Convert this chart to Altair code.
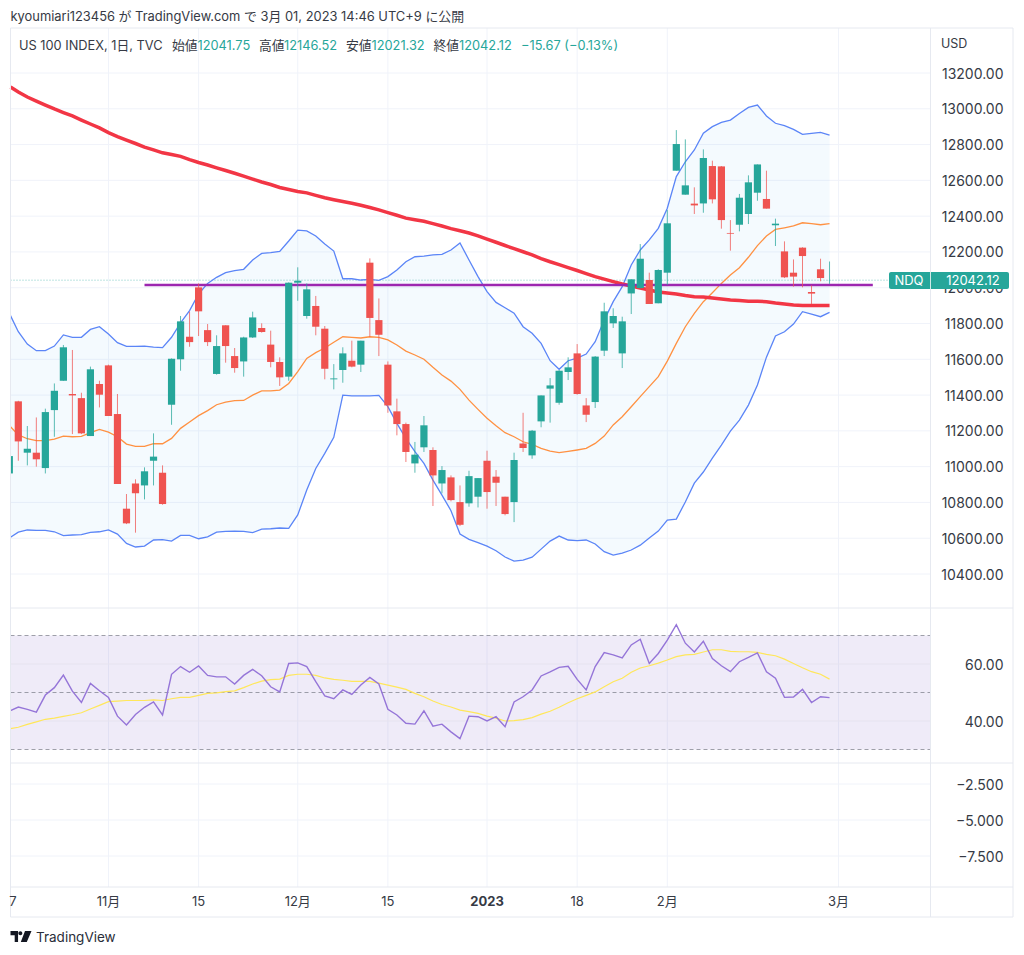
import altair as alt
import pandas as pd

opens = [10962,11365,11078,11078,10992,11316,11480,11406,11383,11171,11462,11566,11294,10765,10906,10895,11033,10966,11346,11600,
11726,12002,11763,11518,11790,11618,11588,11722,11775,11682,11585,11503,12028,11842,11898,11771,11488,11540,11592,11570,
12140,11819,11570,11309,11238,11018,11108,11093,10906,10940,10802,10795,10832,11033,10944,10832,10802,11130,11063,11253,
11436,11357,11529,11633,11342,11361,11648,11801,11633,11968,11998,12043,11913,12084,12654,12520,12470,12471,12680,12678,
12306,12352,12412,12531,12496,12349,12203,12084,12224,11976,12103,12041.75]
closes = [11059,11141,11100,11041,11305,11424,11667,11398,11186,11544,11402,11283,10903,10683,10851,10974,11056,10791,11603,11812,
11696,11868,11696,11674,11674,11551,11722,11834,11752,11585,11499,12028,12039,11991,11782,11547,11493,11633,11559,11704,
11831,11737,11342,11238,11082,11067,11231,10951,10981,10813,10675,10947,10936,10858,10910,10735,11037,11104,11201,11398,
11454,11536,11555,11406,11290,11615,11868,11842,11812,12047,12162,11909,12099,12360,12803,12572,12460,12725,12494,12378,
12302,12503,12589,12689,12442,12358,12058,12062,12177,11967,12054,12042.12]
highs = [11059,11368,11227,11275,11324,11465,11680,11652,11413,11559,11480,11570,11406,10847,10929,10996,11186,11007,11605,11842,
11866,12024,11797,11734,11790,11663,11726,11866,11801,11760,11611,12030,12114,12024,11954,11786,11573,11667,11704,11704,
12164,11940,11588,11380,11246,11138,11283,11108,11003,10951,10895,10977,10936,11089,10981,10832,11078,11301,11205,11398,
11495,11540,11611,11685,11383,11618,11916,11885,11838,12047,12244,12084,12103,12434,12881,12829,12561,12773,12710,12680,
12378,12524,12628,12689,12654,12386,12259,12158,12226,12013,12162,12146.52]
lows = [10962,11033,11007,11000,10962,11167,11480,11182,11182,11171,11331,11283,10903,10679,10631,10817,10895,10787,11234,11536,
11670,11730,11674,11514,11581,11525,11503,11719,11749,11555,11451,11480,11927,11827,11734,11488,11432,11469,11555,11529,
11726,11618,11301,11175,11026,10966,11082,10780,10851,10806,10668,10776,10772,10765,10780,10728,10690,11082,11044,11220,
11246,11346,11484,11402,11249,11328,11618,11775,11551,11853,11995,11909,11913,12015,12654,12520,12412,12419,12471,12330,
12207,12315,12356,12486,12442,12233,12054,12006,12002,11909,12036,12021.32]
upper = [11844,11754,11685,11648,11648,11674,11736,11723,11723,11767,11782,11741,11693,11672,11672,11674,11668,11665,11723,11804,
11872,11965,12024,12058,12084,12095,12103,12155,12192,12196,12203,12261,12322,12318,12289,12244,12205,12050,12050,12043,
12047,12041,12062,12099,12145,12173,12177,12183,12186,12211,12250,12155,12062,11978,11918,11888,11858,11782,11745,11689,
11592,11544,11592,11607,11629,11698,11819,11922,12006,12127,12211,12267,12332,12444,12621,12704,12770,12863,12900,12924,
12937,12974,13008,13021,12960,12919,12906,12885,12857,12863,12868,12853]
lower = [10605,10634,10646,10644,10644,10636,10614,10618,10620,10633,10636,10646,10623,10571,10551,10556,10590,10592,10584,10616,
10616,10597,10608,10634,10638,10640,10638,10631,10651,10653,10657,10655,10730,10869,10990,11074,11164,11400,11396,11395,
11396,11398,11335,11242,11158,11084,11018,10925,10841,10754,10623,10594,10575,10556,10530,10495,10472,10478,10494,10539,
10584,10612,10590,10586,10590,10568,10525,10506,10517,10534,10561,10601,10640,10701,10707,10802,10908,10970,11048,11120,
11199,11260,11344,11456,11612,11730,11754,11797,11866,11853,11838,11862]
basis = [11223,11177,11156,11145,11145,11154,11171,11167,11169,11190,11208,11193,11167,11126,11113,11113,11128,11128,11158,11214,
11249,11285,11313,11346,11361,11369,11370,11400,11423,11423,11428,11465,11531,11605,11637,11663,11695,11726,11722,11719,
11726,11722,11708,11680,11646,11624,11600,11555,11512,11478,11432,11372,11320,11270,11229,11190,11167,11139,11124,11102,
11087,11078,11085,11093,11102,11130,11171,11233,11279,11335,11391,11447,11503,11590,11689,11782,11857,11922,11972,12024,
12071,12112,12170,12235,12289,12326,12335,12345,12363,12358,12352,12358]
ma200 = [13122,13094,13066,13043,13021,12999,12979,12960,12937,12915,12893,12867,12845,12825,12806,12786,12770,12754,12744,12734,
12716,12700,12686,12670,12655,12640,12624,12607,12591,12577,12560,12549,12538,12530,12516,12503,12492,12482,12472,12461,
12448,12435,12420,12405,12389,12380,12371,12358,12345,12330,12318,12306,12290,12272,12254,12236,12218,12201,12183,12163,
12145,12129,12112,12096,12079,12062,12048,12034,12021,12010,11998,11987,11976,11970,11965,11956,11950,11948,11942,11937,
11931,11929,11925,11925,11922,11914,11909,11903,11901,11900,11900,11900]
rsi = [43.6,44.9,44.1,43.1,49.1,51.7,56.1,50.5,46.5,53.2,50.6,48.3,41.7,38.6,42.3,44.8,46.7,42.1,56.4,59.1,
57.1,59.3,56.0,55.5,55.5,53.0,56.0,58.1,55.9,52.0,50.2,60.2,60.4,59.1,53.8,48.8,47.8,50.9,49.3,52.6,
55.3,53.0,44.1,42.1,39.2,38.9,43.6,38.2,38.9,36.2,33.8,41.7,41.5,40.0,41.5,38.0,46.7,48.5,50.9,55.8,
57.2,58.8,59.2,54.6,50.9,59.1,64.0,63.2,62.1,66.7,68.7,60.2,63.7,68.4,73.8,67.3,64.2,68.0,61.9,59.4,
57.3,60.8,62.3,63.9,57.3,55.0,48.3,48.4,51.1,46.5,48.5,48.2]
rsi_ma = [37.3,37.8,38.8,39.7,40.6,41.0,41.6,42.2,42.9,44.2,45.5,46.8,47.0,47.2,47.2,47.2,47.4,47.2,47.8,48.3,
48.3,49.0,49.7,49.9,50.3,50.6,51.7,53.0,54.0,54.5,54.7,56.0,56.4,56.4,56.0,55.1,54.6,54.3,53.9,53.9,
53.9,53.3,52.6,51.9,51.1,49.7,48.5,47.0,45.8,44.9,43.8,43.3,42.7,41.7,41.0,40.0,40.1,40.5,41.2,42.4,
43.4,44.8,46.4,47.8,49.0,50.2,52.0,53.8,55.0,57.1,58.6,59.4,60.3,61.4,62.6,63.2,63.4,64.2,65.0,65.0,
64.4,64.3,64.3,64.1,63.4,62.9,61.7,60.2,58.7,57.3,56.4,54.7]

price_ticks = [10400,10600,10800,11000,11200,11400,11600,11800,12000,12200,12400,12600,12800,13000,13200]
rsi_ticks = [40,60]
rsi_levels = [30,50,70]
lower_ticks = [-2.5,-5.0,-7.5]
x_ticks = [0.4,11,21,32,42,53,63,73,92]
x_labels = ["7","11月","15","12月","15","2023","18","2月","3月"]
level_price = 12015
last_price = 12042.12

TEAL = "#26a69a"
RED = "#ef5350"
GRID = "#f0f3fa"
BORDER = "#e6e9f0"
TXT = "#363a45"
FONT = "Inter, 'Noto Sans CJK JP', sans-serif"

df = pd.DataFrame(dict(i=range(len(opens)), o=opens, c=closes, h=highs, l=lows, up=upper, lo=lower, ba=basis,
                       ma=ma200, rsi=rsi, rsi_ma=rsi_ma))
df["dir"] = ["u" if c >= o else "d" for o, c in zip(opens, closes)]

xs = alt.Scale(domain=[0.133, 102.2], range=[2.5, 922.5], clamp=True, nice=False, zero=False)
ps = alt.Scale(domain=[10400, 13200], range=[566, 65], nice=False, zero=False)
rs = alt.Scale(domain=[40, 60], range=[713, 656], nice=False, zero=False)
ls = alt.Scale(domain=[-7.5, -2.5], range=[848, 776], nice=False, zero=False)

X = alt.X("i:Q", scale=xs, axis=None)
base = alt.Chart(df)


def yaxis(vals, fmt):
    return alt.Axis(orient="right", values=vals, format=fmt, labelAlign="right", labelPadding=72, ticks=False,
                    domain=False, grid=False, title=None, labelFontSize=14, labelColor=TXT, labelFont=FONT,
                    labelOffset=1, labelOverlap=False, labelBound=False, labelFlush=False)


layers = []

# grid
layers.append(alt.Chart(pd.DataFrame({"t": x_ticks[1:]})).mark_rule(color=GRID, strokeWidth=1).encode(
    x=alt.X("t:Q", scale=xs, axis=None), y=alt.value(20), y2=alt.value(879)))
layers.append(alt.Chart(pd.DataFrame({"v": price_ticks})).mark_rule(color=GRID, strokeWidth=1).encode(
    y=alt.Y("v:Q", scale=ps, axis=yaxis(price_ticks, ".2f")), x=alt.value(2.5), x2=alt.value(922.5)))
layers.append(alt.Chart(pd.DataFrame({"v": lower_ticks})).mark_rule(color=GRID, strokeWidth=1).encode(
    y=alt.Y("v:Q", scale=ls, axis=yaxis(lower_ticks, ".3f")), x=alt.value(2.5), x2=alt.value(922.5)))

# RSI pane
layers.append(alt.Chart(pd.DataFrame({"a": [rsi_levels[0]], "b": [rsi_levels[2]]})).mark_rect(color="#7e57c2", opacity=0.12).encode(
    y=alt.Y("a:Q", scale=rs, axis=None), y2="b:Q", x=alt.value(2.5), x2=alt.value(922.5)))
layers.append(alt.Chart(pd.DataFrame({"v": rsi_ticks})).mark_rule(color="#e6e3ef", strokeWidth=1).encode(
    y=alt.Y("v:Q", scale=rs, axis=yaxis(rsi_ticks, ".2f")), x=alt.value(2.5), x2=alt.value(922.5)))
layers.append(alt.Chart(pd.DataFrame({"v": rsi_levels})).mark_rule(color="#787b86", strokeWidth=1, strokeDash=[4, 3], opacity=0.7).encode(
    y=alt.Y("v:Q", scale=rs, axis=None), x=alt.value(2.5), x2=alt.value(922.5)))
layers.append(base.mark_line(color="#ffe75a", strokeWidth=1.2).encode(x=X, y=alt.Y("rsi_ma:Q", scale=rs, axis=None)))
layers.append(base.mark_line(color="#9575d8", strokeWidth=1.4).encode(x=X, y=alt.Y("rsi:Q", scale=rs, axis=None)))

# Bollinger fill and lines
layers.append(base.mark_area(color="#2196f3", opacity=0.05).encode(x=X, y=alt.Y("up:Q", scale=ps, axis=None), y2="lo:Q"))
layers.append(alt.Chart(pd.DataFrame({"v": [last_price]})).mark_rule(color=TEAL, strokeWidth=1, strokeDash=[1, 2], opacity=0.6).encode(
    y=alt.Y("v:Q", scale=ps, axis=None), x=alt.value(2.5), x2=alt.value(922.5)))
layers.append(base.mark_line(color="#5b85f7", strokeWidth=1.3).encode(x=X, y=alt.Y("up:Q", scale=ps, axis=None)))
layers.append(base.mark_line(color="#5b85f7", strokeWidth=1.3).encode(x=X, y=alt.Y("lo:Q", scale=ps, axis=None)))
layers.append(base.mark_line(color="#ff9142", strokeWidth=1.3).encode(x=X, y=alt.Y("ba:Q", scale=ps, axis=None)))
layers.append(base.mark_line(color="#f23645", strokeWidth=3.5).encode(x=X, y=alt.Y("ma:Q", scale=ps, axis=None)))
layers.append(alt.Chart(pd.DataFrame({"a": [15.0], "b": [95.8], "v": [level_price]})).mark_rule(color="#9c27b0", strokeWidth=2.5).encode(
    x=alt.X("a:Q", scale=xs, axis=None), x2="b:Q", y=alt.Y("v:Q", scale=ps, axis=None)))

# candles
cs = alt.Scale(domain=["u", "d"], range=[TEAL, RED])
layers.append(base.mark_rule(strokeWidth=1, opacity=0.75).encode(
    x=X, y=alt.Y("l:Q", scale=ps, axis=None), y2="h:Q", color=alt.Color("dir:N", scale=cs, legend=None)))
layers.append(base.transform_calculate(x0="datum.i-0.4", x1="datum.i+0.4").mark_rect().encode(
    x=alt.X("x0:Q", scale=xs, axis=None), x2="x1:Q", y=alt.Y("o:Q", scale=ps, axis=None), y2="c:Q",
    color=alt.Color("dir:N", scale=cs, legend=None)))

# pane borders
for xa, xb, yy in [(2.5, 1005, 20), (2.5, 1005, 600), (2.5, 1005, 755), (2.5, 1005, 879), (2.5, 1005, 909)]:
    layers.append(alt.Chart(pd.DataFrame({"z": [0]})).mark_rule(color=BORDER, strokeWidth=1).encode(
        x=alt.value(xa), x2=alt.value(xb), y=alt.value(yy)))
for xx in [2.5, 922.5, 1005]:
    layers.append(alt.Chart(pd.DataFrame({"z": [0]})).mark_rule(color=BORDER, strokeWidth=1).encode(
        x=alt.value(xx), y=alt.value(20), y2=alt.value(909)))

# time labels
for weight in ["normal", "bold"]:
    picked = [(t, s) for t, s in zip(x_ticks, x_labels) if (s == "2023") == (weight == "bold")]
    tick_df = pd.DataFrame({"t": [p[0] for p in picked], "s": [p[1] for p in picked]})
    layers.append(alt.Chart(tick_df).mark_text(
        baseline="middle", align="center", font=FONT, fontSize=13, color=TXT, fontWeight=weight
    ).encode(x=alt.X("t:Q", scale=xs, axis=None), y=alt.value(894), text="s:N"))

# last price tag
layers.append(alt.Chart(pd.DataFrame({"z": [0]})).mark_rect(color=TEAL, cornerRadius=2).encode(
    x=alt.value(881), x2=alt.value(1001), y=alt.value(264), y2=alt.value(281)))
layers.append(alt.Chart(pd.DataFrame({"z": [0]})).mark_rule(color="#cfe9e6", strokeWidth=1).encode(
    x=alt.value(922.5), y=alt.value(264), y2=alt.value(281)))


def label(txt, x, y, color=TXT, size=13, align="left", weight="normal"):
    return alt.Chart(pd.DataFrame({"s": [txt]})).mark_text(
        align=align, baseline="middle", font=FONT, fontSize=size, color=color, fontWeight=weight
    ).encode(x=alt.value(x), y=alt.value(y), text="s:N")


layers.append(label("NDQ", 901, 273, "#ffffff", 13, "center"))
layers.append(label(f"{last_price:.2f}", 965, 273, "#ffffff", 13, "center"))
layers.append(label("USD", 933, 36, TXT, 12.5))

title_line = "kyoumiari123456 が TradingView.com で 3月 01, 2023 14:46 UTC+9 に公開"
hdr_texts = ["US 100 INDEX, 1日, TVC", "始値", "12041.75", "高値", "12146.52", "安値", "12021.32", "終値", "12042.12", "−15.67 (−0.13%)"]
hdr_colors = [TXT, TXT, TEAL, TXT, TEAL, TXT, TEAL, TXT, TEAL, TEAL]
hdr_x = [11, 164, 189.5, 251, 276, 338, 363.5, 425.5, 451, 513]
layers.append(label(title_line, 2.5, 9, TXT, 12.9))
for t, c, xx in zip(hdr_texts, hdr_colors, hdr_x):
    layers.append(label(t, xx, 37.5, c, 12.8))

# footer logo and wordmark
logo = "M-1 -0.52 H-0.28 V0.52 H-0.6 V-0.13 H-1 Z M-0.25 -0.32 A0.19 0.19 0 1 0 0.13 -0.32 A0.19 0.19 0 1 0 -0.25 -0.32 Z M0.38 -0.52 H1 L0.55 0.52 H-0.02 Z"
layers.append(alt.Chart(pd.DataFrame({"z": [0]})).mark_point(shape=logo, filled=True, size=441, opacity=1, color="#131722", strokeWidth=0).encode(
    x=alt.value(13), y=alt.value(928.5)))
layers.append(label("TradingView", 28, 929.5, "#2a2e39", 13.5))

chart = alt.layer(*layers).resolve_scale(y="independent").properties(
    width=923, height=879,
    padding={"left": 0, "top": 0, "right": 83, "bottom": 62},
    autosize=alt.AutoSizeParams(type="none"),
).configure_view(stroke=None)

chart.save("out.html", embed_options={"renderer": "svg", "actions": False})
